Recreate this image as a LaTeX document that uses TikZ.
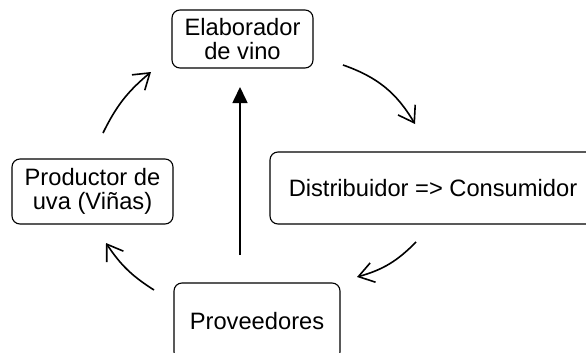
\documentclass[tikz,border=0pt]{standalone}
\usepackage{fontspec}
\setmainfont{Liberation Sans}
\usetikzlibrary{arrows.meta}
\begin{document}
\begin{tikzpicture}[x=1pt,y=-1pt,
          bloque/.style={draw=black,line width=1.1pt,rounded corners=8pt,align=center,inner sep=0pt,
            font=\fontsize{23.7}{23.5}\selectfont},
          flecha/.style={line width=1.6pt,-{Straight Barb[length=15pt,width=20pt,line width=1.6pt]},bend left=15},
          flechallena/.style={line width=1.6pt,-{Triangle[length=16pt,width=15pt]}}]
          \useasboundingbox (0,0) rectangle (586,353);
          \clip (0,0) rectangle (586,353);
          \node[bloque,minimum width=141pt,minimum height=58pt] (elaborador) at (242.5,39) {Elaborador\\de vino};
          \node[bloque,minimum width=161pt,minimum height=65pt] (productor) at (92.5,191.5) {Productor de\\uva (Viñas)};
          \node[bloque,minimum width=326pt,minimum height=72pt] (distribuidor) at (433,188) {Distribuidor => Consumidor};
          \node[bloque,minimum width=166pt,minimum height=77pt] (proveedores) at (257,321.5) {Proveedores};

          \coordinate (a1) at (103,133);  \coordinate (b1) at (151,72);
          \coordinate (a2) at (343,65);   \coordinate (b2) at (415,124);
          \coordinate (a3) at (416,242);  \coordinate (b3) at (357,277);
          \coordinate (a4) at (154,290);  \coordinate (b4) at (106,243);
          \coordinate (a5) at (240,255);  \coordinate (b5) at (240,87);

          \draw[flecha,bend left=12] (a1) to (b1);
          \draw[flecha,bend left=20] (a2) to (b2);
          \draw[flecha] (a3) to (b3);
          \draw[flecha,bend left=12] (a4) to (b4);
          \draw[flechallena] (a5) -- (b5);
        \end{tikzpicture}
\end{document}
